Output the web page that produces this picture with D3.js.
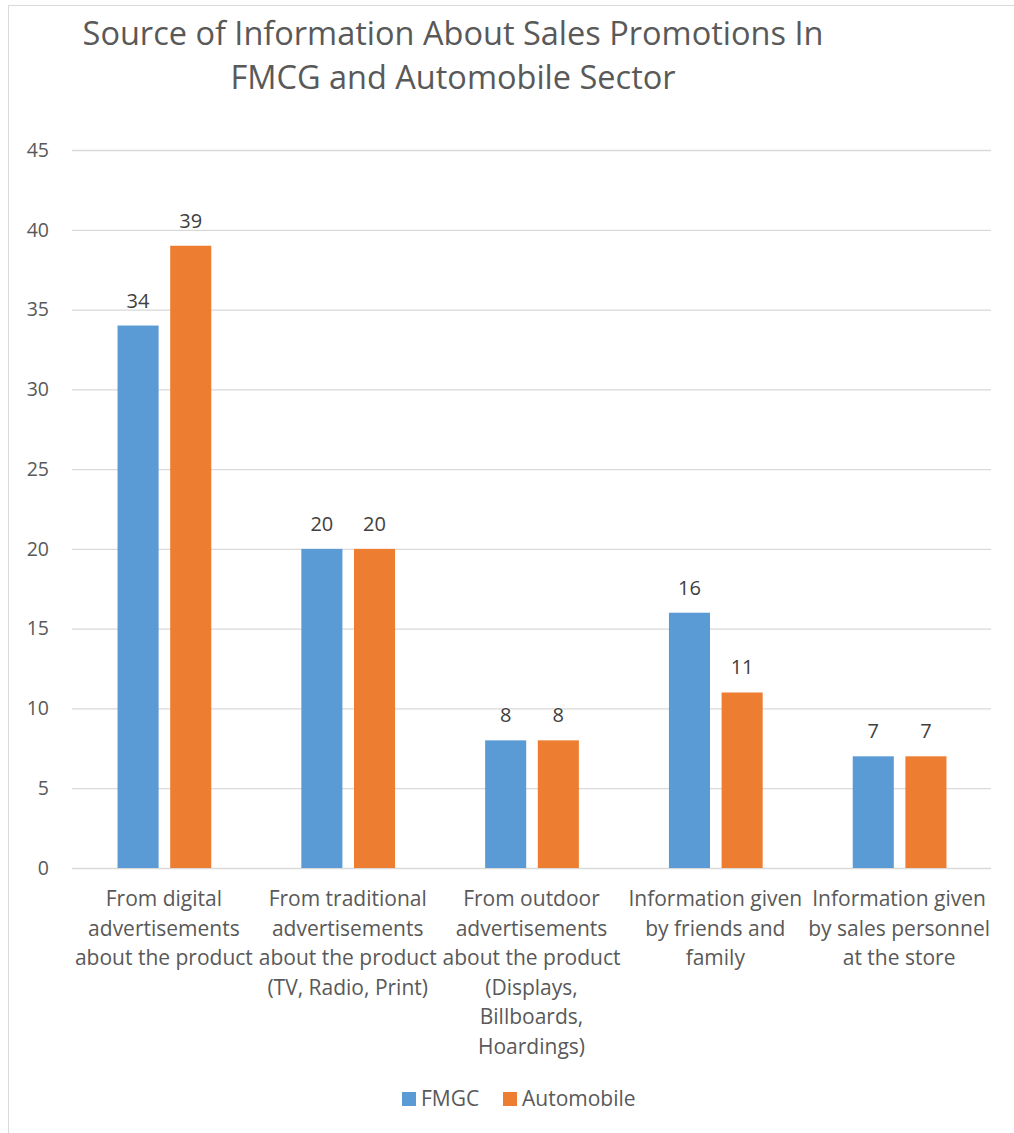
<!DOCTYPE html>
<html>
<head>
<meta charset="utf-8">
<script src="https://cdnjs.cloudflare.com/ajax/libs/d3/7.8.5/d3.min.js"></script>
<style>
  html, body { margin: 0; padding: 0; background: #fff; }
  svg { display: block; }
  text { font-family: "Open Sans", "Lato", sans-serif; }
</style>
</head>
<body>
<svg id="chart" width="1014" height="1133"></svg>
<script>
// Category labels, line breaks as they wrap under each group
const categories = [
  "From digital\nadvertisements\nabout the product",
  "From traditional\nadvertisements\nabout the product\n(TV, Radio, Print)",
  "From outdoor\nadvertisements\nabout the product\n(Displays,\nBillboards,\nHoardings)",
  "Information given\nby friends and\nfamily",
  "Information given\nby sales personnel\nat the store"
];
const seriesNames = ["FMGC", "Automobile"];
const fmgcValues = [34, 20, 8, 16, 7];
const automobileValues = [39, 20, 8, 11, 7];
const yTicks = [0, 5, 10, 15, 20, 25, 30, 35, 40, 45];
const titleLines = ["Source of Information About Sales Promotions In", "FMCG and Automobile Sector"];

const colors = { FMGC: "#5B9BD5", Automobile: "#ED7D31" };
const textColor = "#595959";

const svg = d3.select("#chart");

// chart frame
svg.append("rect")
  .attr("x", 8.5).attr("y", 5.5)
  .attr("width", 1020).attr("height", 1140)
  .attr("fill", "none").attr("stroke", "#D9D9D9").attr("stroke-width", 1);

const plot = { left: 72, right: 991, top: 150, bottom: 868 };

const x0 = d3.scaleBand()
  .domain(d3.range(categories.length))
  .range([plot.left, plot.right])
  .paddingInner(0.49).paddingOuter(0.245);

const x1 = d3.scaleBand()
  .domain(seriesNames)
  .range([0, x0.bandwidth()])
  .paddingInner(0.22);

const y = d3.scaleLinear().domain([0, 45]).range([plot.bottom, plot.top]);

// gridlines and y tick labels
const yAxis = d3.axisLeft(y).tickValues(yTicks).tickSize(-(plot.right - plot.left)).tickPadding(23);
const yg = svg.append("g").attr("transform", `translate(${plot.left},0)`).call(yAxis);
yg.select(".domain").remove();
yg.selectAll(".tick line").attr("stroke", "#D9D9D9").attr("stroke-width", 1.3);
yg.selectAll(".tick text")
  .attr("fill", textColor).attr("font-size", 19.5);

// bars
const rows = categories.map((c, i) => ({
  i,
  values: [
    { key: "FMGC", value: fmgcValues[i] },
    { key: "Automobile", value: automobileValues[i] }
  ]
}));

const groups = svg.append("g").selectAll("g").data(rows).join("g")
  .attr("transform", d => `translate(${x0(d.i) + 0.5},0)`);

groups.selectAll("rect").data(d => d.values).join("rect")
  .attr("x", d => x1(d.key))
  .attr("y", d => y(d.value))
  .attr("width", x1.bandwidth())
  .attr("height", d => y(0) - y(d.value))
  .attr("fill", d => colors[d.key]);

groups.selectAll("text.val").data(d => d.values).join("text")
  .attr("class", "val")
  .attr("x", d => x1(d.key) + x1.bandwidth() / 2)
  .attr("y", d => y(d.value) - 18)
  .attr("text-anchor", "middle")
  .attr("fill", "#404040")
  .attr("font-size", 20)
  .text(d => d.value);

// category labels
const cx = i => x0(i) + x0.bandwidth() / 2;
const catG = svg.append("g");
categories.forEach((c, i) => {
  const t = catG.append("text")
    .attr("text-anchor", "middle")
    .attr("fill", textColor)
    .attr("font-size", 21);
  c.split("\n").forEach((line, k) => {
    t.append("tspan").attr("x", cx(i)).attr("y", 906 + k * 29.6).text(line);
  });
});

// title
const title = svg.append("text")
  .attr("text-anchor", "middle")
  .attr("fill", textColor)
  .attr("font-size", 32.5);
titleLines.forEach((line, k) => {
  title.append("tspan").attr("x", 453).attr("y", 45 + k * 44).text(line);
});

// legend
const legend = svg.append("g");
const legendItems = [
  { key: "FMGC", x: 402 },
  { key: "Automobile", x: 503 }
];
legendItems.forEach(item => {
  legend.append("rect")
    .attr("x", item.x).attr("y", 1092)
    .attr("width", 14).attr("height", 14)
    .attr("fill", colors[item.key]);
  legend.append("text")
    .attr("x", item.x + 19).attr("y", 1106)
    .attr("fill", textColor).attr("font-size", 21)
    .text(item.key);
});
</script>
</body>
</html>
